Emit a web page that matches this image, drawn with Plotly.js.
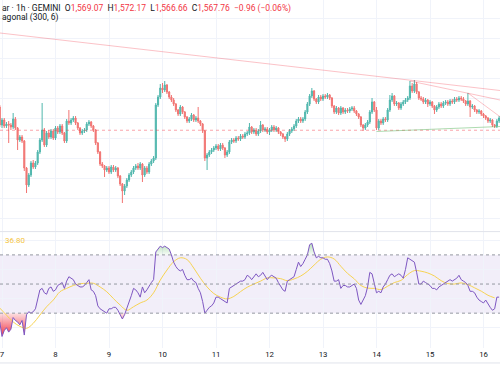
<!DOCTYPE html>
<html><head><meta charset="utf-8">
<script src="https://cdn.plot.ly/plotly-3.0.1.min.js"></script>
<style>html,body{margin:0;padding:0;background:#fff;}#chart{width:500px;height:383px;}</style>
</head><body><div id="chart"></div>
<script>
// ---- data (ETH/USD 1h, Gemini) ----
const startHour = Date.UTC(2023, 9, 6, 23); // first candle
const opens = [1591,
 1573,1578,1572,1574,1573,1571,1579,1570,1558,1561,1557,1530,1513,1523,1535,1531,1535,1546,1558,1568,1553,1565,1561,1567,
 1560,1570,1566,1572,1565,1557,1577,1575,1578,1580,1575,1570,1565,1567,1568,1574,1576,1572,1568,1555,1546,1534,1532,1528,
 1530,1526,1531,1528,1530,1522,1514,1507,1512,1518,1523,1526,1530,1532,1530,1534,1523,1530,1526,1534,1537,1540,1593,1601,
 1610,1608,1613,1606,1601,1598,1594,1588,1584,1591,1586,1581,1577,1579,1583,1578,1580,1577,1574,1567,1540,1543,1546,1548,
 1550,1552,1549,1553,1550,1543,1546,1556,1558,1557,1560,1559,1562,1561,1564,1565,1571,1566,1568,1564,1567,1573,1568,1569,
 1566,1568,1571,1568,1570,1566,1564,1561,1559,1564,1567,1569,1572,1577,1579,1577,1579,1586,1594,1602,1607,1599,1596,1601,
 1599,1602,1601,1603,1600,1592,1586,1590,1585,1590,1586,1588,1587,1589,1590,1587,1584,1581,1573,1570,1573,1576,1586,1596,
 1588,1570,1577,1575,1579,1578,1588,1598,1602,1594,1595,1590,1594,1596,1598,1600,1612,1607,1614,1606,1600,1599,1596,1598,
 1594,1596,1592,1588,1591,1594,1592,1595,1596,1594,1597,1596,1599,1598,1600,1599,1597,1594,1597,1591,1592,1588,1586,1587,
 1584,1582,1580,1577,1578,1573,1572,1577];
const highs = [1593,
 1580,1580,1576,1577,1575,1585,1581,1571,1563,1563,1558,1531,1525,1537,1538,1537,1548,1560,1595,1570,1567,1568,1569,1569,
 1572,1572,1574,1574,1566,1579,1588,1580,1582,1582,1576,1571,1569,1570,1576,1578,1577,1573,1569,1556,1547,1536,1533,1532,
 1532,1533,1533,1532,1531,1523,1515,1514,1520,1525,1528,1532,1534,1535,1536,1535,1532,1532,1536,1539,1542,1595,1603,1614,
 1615,1617,1614,1607,1603,1600,1595,1589,1593,1592,1587,1582,1581,1585,1584,1582,1591,1578,1575,1568,1545,1548,1550,1552,
 1554,1554,1555,1555,1551,1548,1558,1560,1560,1562,1562,1564,1564,1566,1567,1575,1572,1570,1570,1569,1577,1574,1571,1571,
 1570,1573,1573,1572,1571,1567,1565,1562,1566,1569,1571,1574,1579,1581,1581,1581,1588,1596,1604,1610,1608,1600,1603,1603,
 1604,1604,1605,1604,1601,1593,1592,1591,1592,1591,1590,1590,1591,1592,1592,1588,1585,1582,1574,1575,1578,1588,1600,1597,
 1591,1579,1579,1581,1581,1590,1603,1605,1603,1597,1596,1596,1598,1600,1602,1617,1615,1618,1616,1607,1602,1601,1600,1599,
 1598,1597,1593,1593,1596,1596,1597,1598,1598,1599,1599,1601,1601,1602,1602,1601,1598,1605,1598,1594,1593,1589,1589,1588,
 1585,1583,1581,1580,1579,1574,1579,1582];
const lows = [1571,
 1570,1570,1570,1555,1568,1569,1568,1548,1556,1555,1527,1505,1511,1521,1529,1529,1533,1544,1556,1551,1551,1559,1559,1558,
 1558,1564,1564,1563,1555,1555,1573,1573,1576,1573,1568,1563,1563,1565,1566,1572,1570,1566,1553,1544,1532,1530,1521,1526,
 1524,1524,1526,1526,1520,1512,1495,1503,1510,1516,1521,1524,1528,1528,1528,1516,1521,1524,1524,1532,1535,1538,1591,1599,
 1605,1606,1604,1599,1596,1592,1586,1582,1582,1584,1579,1575,1575,1577,1576,1576,1575,1572,1565,1537,1528,1541,1544,1546,
 1548,1547,1547,1548,1540,1541,1544,1554,1555,1555,1557,1557,1559,1559,1562,1563,1564,1564,1562,1562,1565,1566,1566,1564,
 1563,1566,1566,1566,1564,1562,1559,1556,1557,1562,1565,1567,1570,1575,1575,1575,1577,1584,1592,1600,1597,1594,1594,1597,
 1597,1599,1599,1598,1590,1584,1584,1583,1583,1584,1584,1585,1585,1587,1585,1582,1579,1571,1567,1568,1571,1574,1584,1586,
 1568,1568,1573,1573,1576,1576,1586,1596,1592,1592,1588,1588,1592,1594,1596,1598,1605,1605,1604,1598,1597,1594,1594,1591,
 1592,1590,1584,1586,1589,1590,1590,1593,1592,1592,1594,1594,1596,1596,1597,1595,1592,1592,1581,1589,1586,1584,1584,1582,
 1580,1578,1575,1575,1571,1570,1570,1575];
const closes = [1573,
 1578,1572,1574,1573,1571,1579,1570,1558,1561,1557,1530,1513,1523,1535,1531,1535,1546,1558,1568,1553,1565,1561,1567,1560,
 1570,1566,1572,1565,1557,1577,1575,1578,1580,1575,1570,1565,1567,1568,1574,1576,1572,1568,1555,1546,1534,1532,1528,1530,
 1526,1531,1528,1530,1522,1514,1507,1512,1518,1523,1526,1530,1532,1530,1534,1523,1530,1526,1534,1537,1540,1593,1601,1610,
 1608,1613,1606,1601,1598,1594,1588,1584,1591,1586,1581,1577,1579,1583,1578,1580,1577,1574,1567,1540,1543,1546,1548,1550,
 1552,1549,1553,1550,1543,1546,1556,1558,1557,1560,1559,1562,1561,1564,1565,1571,1566,1568,1564,1567,1573,1568,1569,1566,
 1568,1571,1568,1570,1566,1564,1561,1559,1564,1567,1569,1572,1577,1579,1577,1579,1586,1594,1602,1607,1599,1596,1601,1599,
 1602,1601,1603,1600,1592,1586,1590,1585,1590,1586,1588,1587,1589,1590,1587,1584,1581,1573,1570,1573,1576,1586,1596,1588,
 1570,1577,1575,1579,1578,1588,1598,1602,1594,1595,1590,1594,1596,1598,1600,1612,1607,1614,1606,1600,1599,1596,1598,1594,
 1596,1592,1588,1591,1594,1592,1595,1596,1594,1597,1596,1599,1598,1600,1599,1597,1594,1597,1591,1592,1588,1586,1587,1584,
 1582,1580,1577,1578,1573,1572,1577,1580];
const rsi = [24,
 14,18,20,17,19,27,25,24,22,25,15,29,31,30,31,33,40,46,47,44,43,47,48,45,
 46,49,50,51,47,52,55,54,53,50,49,48,48,49,51,53,46,45,42,35,33,32,31,30,
 33,33,34,34,32,29,26,29,33,38,42,47,46,44,41,48,44,46,49,51,53,72,74,76,
 75,76,75,74,70,65,62,60,59,60,56,53,53,54,52,51,47,44,38,30,32,34,35,37,
 41,41,40,39,38,37,47,48,49,50,51,52,52,53,56,55,53,55,57,55,56,58,55,53,
 55,56,55,54,51,48,46,45,52,53,54,55,60,65,62,64,67,70,77,78,72,68,69,68,
 68,67,67,64,59,52,52,53,47,49,49,48,48,49,50,47,39,36,39,42,48,58,57,50,
 44,45,44,48,50,53,56,57,55,56,57,56,54,60,68,67,66,65,58,50,50,52,51,50,
 49,47,47,46,48,49,50,51,52,53,52,53,54,56,53,52,51,49,45,45,44,41,39,38,
 37,39,36,34,32,33,41,41];
// RSI-based MA, read every 3 hours
const maStepHours = 3;
const rsiMA = [33.5,28.7,24,21,19.6,23,28.7,34.4,39,44.7,47,49,50.2,50.5,50.5,48,44.7,40,35.6,32,
 34.4,37,39,44,52.7,59.6,65.3,68,66.8,61,54,48,43.5,41,39.8,41.5,44.8,47.8,50,52,
 54.2,54.2,53.7,52.3,53.5,55.5,58.7,63,67,68.6,67.2,62.2,57.3,53.6,49,47.2,47,46.2,48.5,51,
 52.5,56.5,59.2,58.8,57.6,55.5,52.3,50.3,50,50.8,49.6,47.4,45.1,42.3,40.5];
const rsiLevels = [30, 50, 70];
const lastPrice = 1567.76;
// auto-drawn diagonals: [startTime, startPrice, endTime, endPrice]
const diagonals = [
 ['2023-10-06 23:06', 1665, '2023-10-16 07:24', 1607.5],
 ['2023-10-14 15:00', 1617, '2023-10-16 07:24', 1598],
 ['2023-10-15 17:00', 1605, '2023-10-16 07:24', 1581.3]
];
const supportLine = ['2023-10-14 00:00', 1566.5, '2023-10-16 07:24', 1571.5];
const dayTicks = ['7','8','9','10','11','12','13','14','15','16'];
const header = {sym:'ar · 1h · GEMINI', o:'1,569.07', h:'1,572.17', l:'1,566.66', c:'1,567.76', chg:'−0.96 (−0.06%)'};
const header2 = 'agonal (300, 6)';
const rsiValueLabel = '36.80';

// ---- build ----
function t(ms){return new Date(ms).toISOString().slice(0,19).replace('T',' ');}
const times = closes.map((_, k) => t(startHour + k*3600e3));
const maTimes = rsiMA.map((_, j) => t(startHour + j*maStepHours*3600e3));
const GREEN = '#26a69a', RED = '#ef5350';
const FONT = 'Roboto, "Noto Sans", sans-serif';

const traces = [
 {type:'candlestick', x:times, open:opens, high:highs, low:lows, close:closes, xaxis:'x', yaxis:'y',
  increasing:{line:{color:GREEN, width:1}, fillcolor:GREEN}, decreasing:{line:{color:RED, width:1}, fillcolor:RED},
  whiskerwidth:0, hoverinfo:'skip', showlegend:false, opacity:0.8},
 // oversold fill
 {type:'scatter', x:times, y:times.map(()=>30), xaxis:'x', yaxis:'y2', mode:'lines', line:{width:0}, hoverinfo:'skip', showlegend:false},
 {type:'scatter', x:times, y:rsi.map(v=>Math.min(v,30)), xaxis:'x', yaxis:'y2', mode:'lines', line:{width:0}, fill:'tonexty',
  fillgradient:{type:'vertical', start:30, stop:14, colorscale:[[0,'rgba(242,54,69,0.15)'],[1,'rgba(242,54,69,1)']]},
  hoverinfo:'skip', showlegend:false},
 // overbought fill
 {type:'scatter', x:times, y:times.map(()=>70), xaxis:'x', yaxis:'y2', mode:'lines', line:{width:0}, hoverinfo:'skip', showlegend:false},
 {type:'scatter', x:times, y:rsi.map(v=>Math.max(v,70)), xaxis:'x', yaxis:'y2', mode:'lines', line:{width:0}, fill:'tonexty',
  fillgradient:{type:'vertical', start:70, stop:80, colorscale:[[0,'rgba(76,175,80,0.05)'],[1,'rgba(76,175,80,0.5)']]},
  hoverinfo:'skip', showlegend:false},
 {type:'scatter', x:maTimes, y:rsiMA, xaxis:'x', yaxis:'y2', mode:'lines', line:{color:'#f7d352', width:1, shape:'spline'}, hoverinfo:'skip', showlegend:false},
 {type:'scatter', x:times, y:rsi, xaxis:'x', yaxis:'y2', mode:'lines', line:{color:'#7e57c2', width:1}, hoverinfo:'skip', showlegend:false}
];

const shapes = [
 {type:'rect', xref:'paper', x0:0, x1:1, yref:'y2', y0:30, y1:70, fillcolor:'rgba(126,87,194,0.1)', line:{width:0}, layer:'below'},
 ...rsiLevels.map(v => ({type:'line', xref:'paper', x0:0, x1:1, yref:'y2', y0:v, y1:v, line:{color:'#9598a1', width:1, dash:'3px,3px'}})),
 {type:'line', xref:'paper', x0:0, x1:1, yref:'y', y0:lastPrice, y1:lastPrice, line:{color:'rgba(242,54,69,0.45)', width:1, dash:'dot'}},
 ...diagonals.map(d => ({type:'line', xref:'x', yref:'y', x0:d[0], y0:d[1], x1:d[2], y1:d[3], line:{color:'rgba(242,54,69,0.3)', width:1}})),
 {type:'line', xref:'x', yref:'y', x0:supportLine[0], y0:supportLine[1], x1:supportLine[2], y1:supportLine[3], line:{color:'rgba(76,175,80,0.45)', width:1}},
 {type:'line', xref:'paper', x0:0, x1:1, yref:'paper', y0:0.3345, y1:0.3345, line:{color:'#e0e3eb', width:1}},
 {type:'line', xref:'paper', x0:0, x1:1, yref:'paper', y0:-0.043, y1:-0.043, line:{color:'#e0e3eb', width:1}}
];

const red = s => '<span style="color:#f23645">' + s + '</span>';
const NB = '\u00a0';
const annotations = [
 {xref:'paper', yref:'paper', x:0, y:0.977, xanchor:'left', yanchor:'middle', showarrow:false, align:'left',
  font:{family:FONT, size:8.5, color:'#131722'},
  text: header.sym + NB+NB + 'O' + red(header.o) + NB+NB + 'H' + red(header.h) + NB+NB + 'L' + red(header.l) + NB+NB + 'C' + red(header.c) + NB+NB + red(header.chg)},
 {xref:'paper', yref:'paper', x:0, y:0.951, xanchor:'left', yanchor:'middle', showarrow:false,
  font:{family:FONT, size:8.5, color:'#131722'}, text: header2},
 {xref:'paper', yref:'paper', x:0.006, y:0.31, xanchor:'left', yanchor:'middle', showarrow:false,
  font:{family:FONT, size:8, color:'#f5c542'}, text: rsiValueLabel}
];

const layout = {
 width:500, height:383, margin:{l:0, r:0, t:0, b:35},
 paper_bgcolor:'#ffffff', plot_bgcolor:'#ffffff', showlegend:false, dragmode:false,
 xaxis:{type:'date', range:['2023-10-06 23:06:10','2023-10-16 07:24:06'], anchor:'y2',
  tickmode:'array', tickvals: dayTicks.map(d => '2023-10-' + (d.length<2?'0'+d:d)), ticktext: dayTicks,
  showgrid:true, gridcolor:'#f0f3fa', gridwidth:1, zeroline:false, showline:false, ticks:'', ticklabeloverflow:'allow',
  tickfont:{family:FONT, size:7.8, color:'#131722'}, rangeslider:{visible:false}, fixedrange:true},
 yaxis:{domain:[0.3362, 1], range:[1467, 1698], tick0:1480, dtick:20, showticklabels:false, showgrid:true,
  gridcolor:'#f0f3fa', zeroline:false, fixedrange:true},
 yaxis2:{domain:[0, 0.3333], range:[6.1, 85.7], tickmode:'array', tickvals:[20,40,60,80], showticklabels:false,
  showgrid:true, gridcolor:'#f0f3fa', zeroline:false, anchor:'x', fixedrange:true},
 shapes, annotations
};

Plotly.newPlot('chart', traces, layout, {displayModeBar:false, staticPlot:true});
</script></body></html>
